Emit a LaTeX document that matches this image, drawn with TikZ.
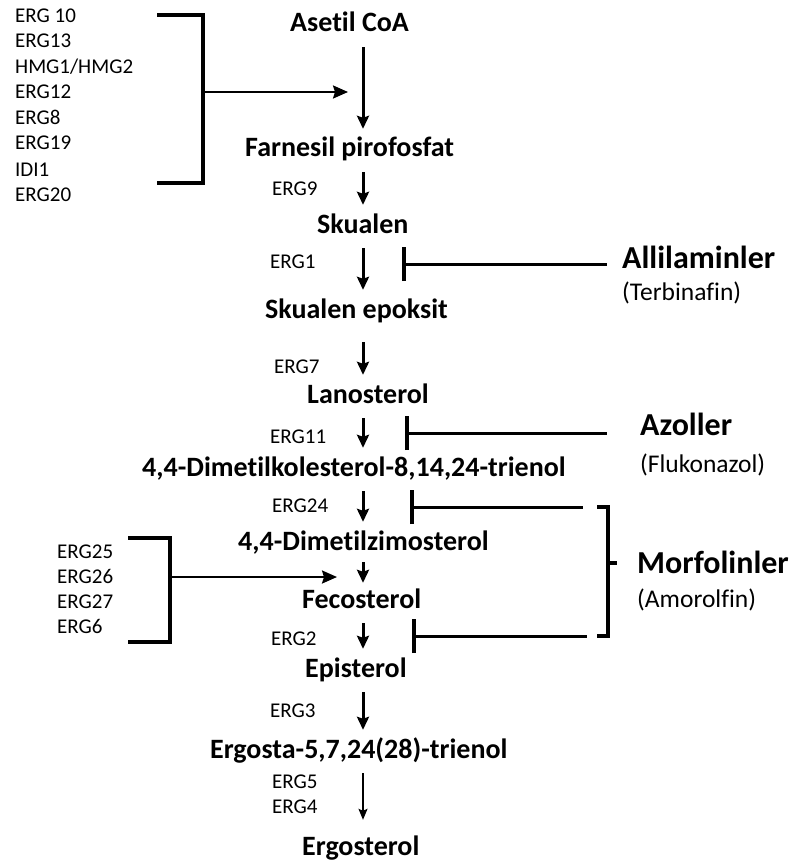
\documentclass[tikz,border=0pt]{standalone}
\usepackage{fontspec}
\setmainfont{Carlito}[Ligatures=NoCommon]
\usetikzlibrary{arrows.meta}

\tikzset{
  compound/.style={inner sep=0pt, anchor=base west, text height=20pt, text depth=7pt,
    font=\fontsize{28}{30}\selectfont\bfseries},
  gene/.style={inner sep=0pt, anchor=base west, font=\fontsize{21}{24}\selectfont},
  drug/.style={inner sep=0pt, anchor=base west, font=\fontsize{32}{36}\selectfont\bfseries},
  drugname/.style={inner sep=0pt, anchor=base west, font=\fontsize{25.5}{28}\selectfont},
  flow/.style={-{Stealth[length=13pt,width=12pt,inset=2pt]}, line width=3pt,
    shorten <=8pt, shorten >=8pt},
  thinflow/.style={-{Stealth[length=11pt,width=9pt,inset=2pt]}, line width=1.5pt,
    shorten <=8pt, shorten >=15pt},
  feed/.style={-{Stealth[length=15pt,width=13pt,inset=2pt]}, line width=2.3pt},
  inhibit/.style={{Bar[width=34pt,line width=3.5pt]}-, line width=3pt},
  bracket/.style={line width=3.5pt, line join=miter}
}

\begin{document}
\begin{tikzpicture}[x=1pt, y=-1pt]

    \useasboundingbox (0,0) rectangle (790,861);
    \coordinate (col) at (363,0);

    % pathway
    \node[compound] (aco) at (290,32) {Asetil CoA};
    \node[compound] (fpp) at (245,157) {Farnesil pirofosfat};
    \node[compound] (sq) at (317,233) {Skualen};
    \node[compound] (sqe) at (265,318) {Skualen epoksit};
    \node[compound] (lan) at (307,403) {Lanosterol};
    \node[compound] (dmk) at (142,476) {4,4-Dimetilkolesterol-8,14,24-trienol};
    \node[compound] (dmz) at (238,550) {4,4-Dimetilzimosterol};
    \node[compound] (fec) at (302,608) {Fecosterol};
    \node[compound] (epi) at (305,677) {Episterol};
    \node[compound] (erga) at (210,758) {Ergosta-5,7,24(28)-trienol};
    \node[compound] (erg) at (302,855) {Ergosterol};

    \draw[flow] (aco.south -| col) -- (fpp.north -| col);
    \draw[flow] (fpp.south -| col) -- (sq.north -| col);
    \draw[flow] (sq.south -| col) -- (sqe.north -| col);
    \draw[flow, shorten <=17pt] (sqe.south -| col) -- (lan.north -| col);
    \draw[flow] (lan.south -| col) -- (dmk.north -| col);
    \draw[flow] (dmk.south -| col) -- (dmz.north -| col);
    \draw[flow, shorten <=5pt, shorten >=5pt] (dmz.south -| col) -- (fec.north -| col);
    \draw[flow] (fec.south -| col) -- (epi.north -| col);
    \draw[flow] (epi.south -| col) -- (erga.north -| col);
    \draw[thinflow] (erga.south -| col) -- (erg.north -| col);

    % enzymes
    \node[gene] (e9) at (272,195) {ERG9};
    \node[gene] (e1) at (270,268) {ERG1};
    \node[gene] (e7) at (274,373) {ERG7};
    \node[gene] (e11) at (270,443) {ERG11};
    \node[gene] (e24) at (272,512) {ERG24};
    \node[gene] (e2) at (271,645) {ERG2};
    \node[gene] (e3) at (270,717) {ERG3};
    \node[gene] (e5) at (272,788) {ERG5};
    \node[gene] (e4) at (272,813) {ERG4};

    % upper gene list
    \node[gene] (u1) at (15,23) {ERG 10};
    \node[gene] (u2) at (15,48) {ERG13};
    \node[gene] (u3) at (15,74) {HMG1/HMG2};
    \node[gene] (u4) at (15,99) {ERG12};
    \node[gene] (u5) at (15,125) {ERG8};
    \node[gene] (u6) at (15,150) {ERG19};
    \node[gene] (u7) at (15,176) {IDI1};
    \node[gene] (u8) at (15,201) {ERG20};

    \coordinate (ub1) at (157,15);
    \coordinate (ubm) at (203,92);
    \coordinate (ub2) at (157,183);
    \draw[bracket] (ub1) -| (ubm) |- (ub2);
    \draw[feed, shorten >=15pt] (ubm) -- (ubm -| col);

    % lower gene list
    \node[gene] (l1) at (57,558) {ERG25};
    \node[gene] (l2) at (57,583) {ERG26};
    \node[gene] (l3) at (57,608) {ERG27};
    \node[gene] (l4) at (57,633) {ERG6};

    \coordinate (lb1) at (128,538);
    \coordinate (lbm) at (170,577);
    \coordinate (lb2) at (128,642);
    \draw[bracket] (lb1) -| (lbm) |- (lb2);
    \draw[feed, shorten >=26pt] (lbm) -- (lbm -| col);

    % inhibitors
    \node[drug] (all) at (622,268) {Allilaminler};
    \node[drugname] (ter) at (622,300) {(Terbinafin)};
    \node[drug] (azo) at (640,435) {Azoller};
    \node[drugname] (flu) at (640,472) {(Flukonazol)};
    \node[drug] (mor) at (637,573) {Morfolinler};
    \node[drugname] (amo) at (637,607) {(Amorolfin)};

    \coordinate (b1) at (402,264);
    \coordinate (b2) at (405,433);
    \coordinate (b3) at (410,507);
    \coordinate (b4) at (412,636);
    \draw[inhibit, shorten >=15pt] (b1) -- (b1 -| all.west);
    \draw[inhibit, shorten >=33pt] (b2) -- (b2 -| azo.west);

    \coordinate (mb1) at (597,507);
    \coordinate (mbm) at (608,563);
    \coordinate (mb2) at (597,636);
    \draw[inhibit, shorten >=14pt] (b3) -- (b3 -| mb1);
    \draw[inhibit, shorten >=10pt] (b4) -- (b4 -| mb2);
    \draw[bracket] (mb1) -| (mbm) |- (mb2);
    \draw[bracket, shorten >=20pt] (mbm) -- (mbm -| mor.west);

\end{tikzpicture}
\end{document}
